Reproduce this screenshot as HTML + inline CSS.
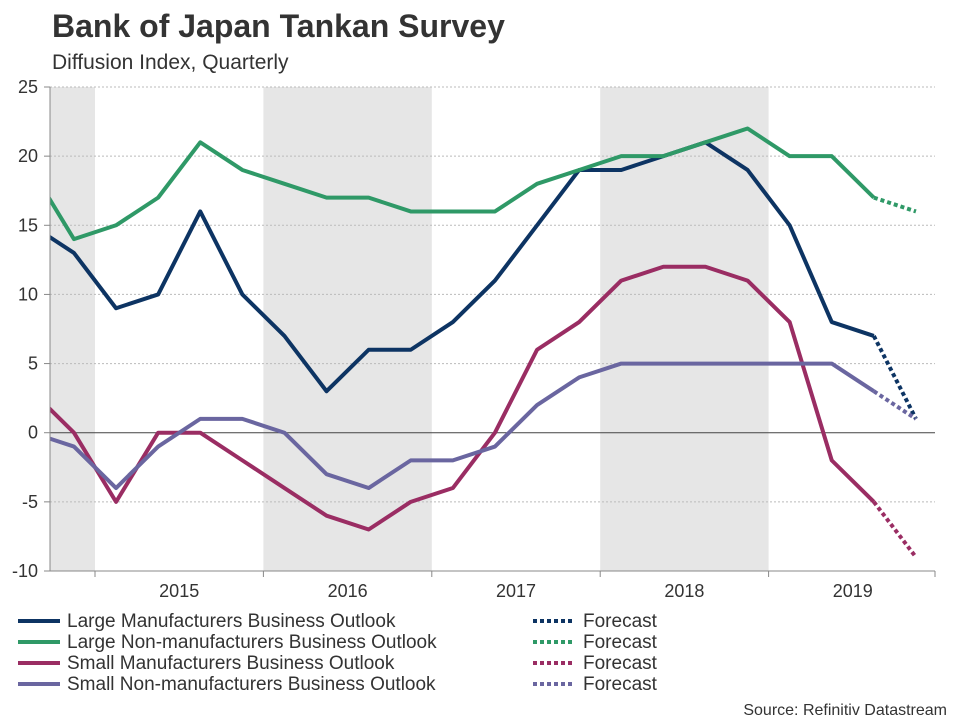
<!DOCTYPE html>
<html><head><meta charset="utf-8"><style>
body{margin:0;background:#fff;font-family:"Liberation Sans",Arial,sans-serif;}
svg text{font-family:"Liberation Sans",Arial,sans-serif;}
</style></head><body>
<svg id="chart" width="960" height="720" xmlns="http://www.w3.org/2000/svg">
<text x="52" y="37" font-size="32" font-weight="bold" fill="#333">Bank of Japan Tankan Survey</text>
<text x="52" y="69" font-size="21" fill="#333">Diffusion Index, Quarterly</text>
<defs><clipPath id="plotclip"><rect x="50" y="80" width="885" height="500"/></clipPath></defs>
<g id="bands"></g><g id="grid"></g><g id="series" clip-path="url(#plotclip)"></g><g id="axes"></g>
<g id="legend"></g>
<text x="947" y="715" font-size="16" fill="#333" text-anchor="end">Source: Refinitiv Datastream</text>
</svg>
<script>
const years=["2015","2016","2017","2018","2019"];
const yTicks=[25,20,15,10,5,0,-5,-10];
const largeMfg=[15,13,9,10,16,10,7,3,6,6,8,11,15,19,19,20,21,19,15,8,7];
const largeNonMfg=[19,14,15,17,21,19,18,17,17,16,16,16,18,19,20,20,21,22,20,20,17];
const smallMfg=[3,0,-5,0,0,-2,-4,-6,-7,-5,-4,0,6,8,11,12,12,11,8,-2,-5];
const smallNonMfg=[0,-1,-4,-1,1,1,0,-3,-4,-2,-2,-1,2,4,5,5,5,5,5,5,3];
const forecastLargeMfg=[7,1];
const forecastLargeNonMfg=[17,16];
const forecastSmallMfg=[-5,-9];
const forecastSmallNonMfg=[3,1];
const NS="http://www.w3.org/2000/svg";
const X0=50,X1=935,Y0=87,Y1=571,YEAR0=95,YW=168.4,QW=YW/4;
const y=v=>Y0+(25-v)*(Y1-Y0)/35;
const x=i=>YEAR0-QW*2+QW/2+i*QW;
function el(t,a,p){const e=document.createElementNS(NS,t);for(const k in a)e.setAttribute(k,a[k]);p.appendChild(e);return e;}
const bands=document.getElementById('bands'),grid=document.getElementById('grid'),ser=document.getElementById('series'),axes=document.getElementById('axes'),leg=document.getElementById('legend');
[[X0,YEAR0],[YEAR0+YW,YEAR0+2*YW],[YEAR0+3*YW,YEAR0+4*YW]].forEach((b,i)=>{
 const r=el('rect',{x:b[0],y:Y0,width:b[1]-b[0],height:Y1-Y0,fill:'#e6e6e6'},bands);
 
 
});
yTicks.forEach(v=>{
 const l=el('line',{x1:X0,x2:X1,y1:y(v),y2:y(v),stroke:v===0?'#444':'#bbb','stroke-width':1,'stroke-dasharray':v===0?'':'2,2'},grid);
 
 
 el('line',{x1:X0-6,x2:X0,y1:y(v),y2:y(v),stroke:'#888'},axes);
 const t=el('text',{x:38,y:y(v)+6,'font-size':18,fill:'#333','text-anchor':'end'},axes);
 t.textContent=v;
 
 
});
el('line',{x1:X0,x2:X0,y1:Y0,y2:Y1,stroke:'#888'},axes);
el('line',{x1:X0,x2:X1,y1:Y1,y2:Y1,stroke:'#888'},axes);
years.forEach((yr,i)=>{
 el('line',{x1:YEAR0+i*YW,x2:YEAR0+i*YW,y1:Y1,y2:Y1+6,stroke:'#888'},axes);
 const t=el('text',{x:YEAR0+i*YW+YW/2,y:597,'font-size':18,fill:'#333','text-anchor':'middle'},axes);
 t.textContent=yr;
 
 
});
el('line',{x1:X1,x2:X1,y1:Y1,y2:Y1+6,stroke:'#888'},axes);
const S=[
 ['Large Manufacturers Business Outlook',largeMfg,forecastLargeMfg,'#0d3463','large-manufacturers'],
 ['Large Non-manufacturers Business Outlook',largeNonMfg,forecastLargeNonMfg,'#2f9967','large-non-manufacturers'],
 ['Small Manufacturers Business Outlook',smallMfg,forecastSmallMfg,'#9a2d63','small-manufacturers'],
 ['Small Non-manufacturers Business Outlook',smallNonMfg,forecastSmallNonMfg,'#6a66a0','small-non-manufacturers']];
S.forEach((s,k)=>{
 const pts=s[1].map((v,i)=>x(i)+','+y(v)).join(' ');
 const n=s[1].length-1;
 const fp=s[2].map((v,i)=>x(n+i)+','+y(v)).join(' ');
 const f=el('polyline',{points:fp,fill:'none',stroke:s[3],'stroke-width':4,'stroke-dasharray':'4,3'},ser);
 
 
 const p=el('polyline',{points:pts,fill:'none',stroke:s[3],'stroke-width':4,'stroke-linejoin':'round'},ser);
 
 
 const ly=621+k*21;
 const g=el('g',{},leg);
 
 
 el('line',{x1:18,x2:60,y1:ly,y2:ly,stroke:s[3],'stroke-width':4},g);
 const t=el('text',{x:67,y:ly+6,'font-size':19,fill:'#333'},g);t.textContent=s[0];
 const g2=el('g',{},leg);
 
 
 el('line',{x1:533,x2:575,y1:ly,y2:ly,stroke:s[3],'stroke-width':4,'stroke-dasharray':'4,3'},g2);
 const t2=el('text',{x:583,y:ly+6,'font-size':19,fill:'#333'},g2);t2.textContent='Forecast';
});
</script>
</body></html>
